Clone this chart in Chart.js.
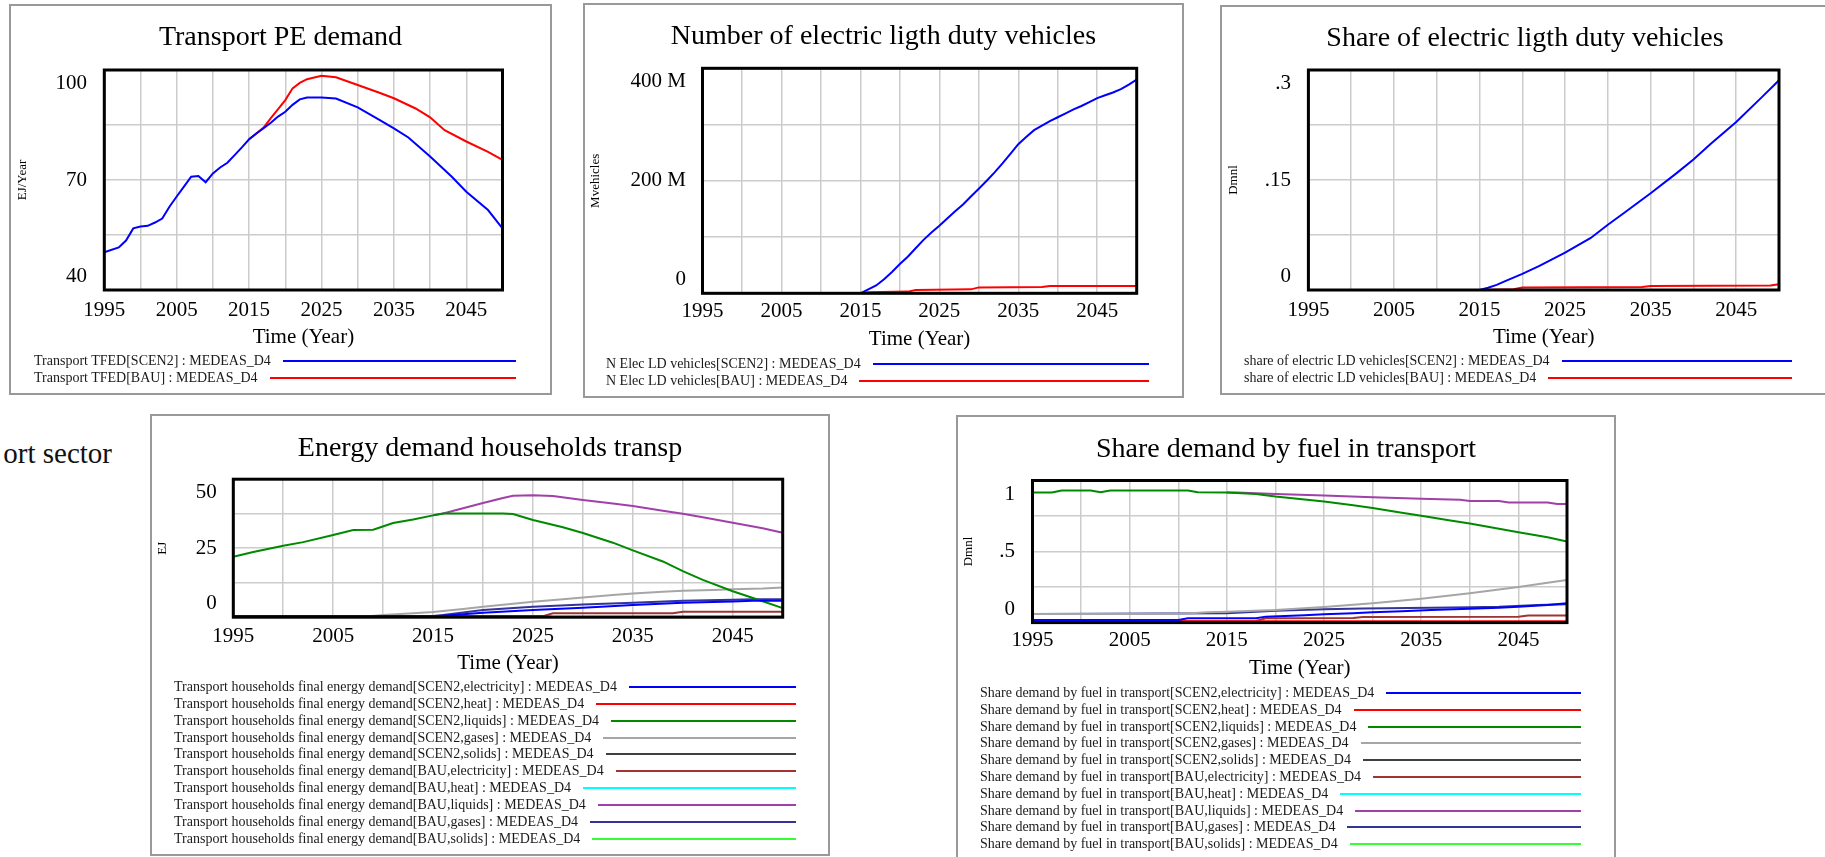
<!DOCTYPE html>
<html><head><meta charset="utf-8">
<script src="https://cdn.jsdelivr.net/npm/chart.js@4.4.0/dist/chart.umd.min.js"></script>
<style>
html,body{margin:0;padding:0;background:#fff;}
body{width:1825px;height:857px;position:relative;overflow:hidden;font-family:'Liberation Serif','Times New Roman',serif;}
.box{position:absolute;border:2px solid #999;box-sizing:border-box;}
canvas{position:absolute;}
.leg{position:absolute;display:flex;align-items:center;height:18px;font-size:14px;color:#1a1a1a;white-space:nowrap;}
.leg .ln{flex:1;height:2px;margin-left:12px;}
.side{position:absolute;font-size:29px;line-height:32px;color:#111;white-space:nowrap;}
</style></head><body>
<div class="side" style="right:1713px;top:437px;">ort sector</div>
<script>
// ---------------- DATA ----------------
const xTickLabels = ['1995','2005','2015','2025','2035','2045'];
const xTitle = 'Time (Year)';

// Transport PE demand (EJ/Year)
const peYearsScen2 = [1995,1997,1998,1999,2000,2001,2002,2003,2004,2005,2006,2007,2008,2009,2010,2011,2012,2013,2014,2015,2016,2017,2018,2019,2020,2021,2022,2023,2025,2027,2030,2033,2035,2037,2040,2043,2045,2048,2050];
const peScen2 = [50.3,51.6,53.5,56.8,57.3,57.5,58.4,59.5,62.7,65.5,68.2,70.9,71.1,69.4,71.8,73.4,74.7,76.8,78.9,81.1,82.7,84.1,85.6,87.3,88.6,90.5,92.0,92.5,92.5,92.2,89.8,86.4,84.1,81.6,76.4,70.9,66.8,61.8,56.8];
const peYearsBau = [2015,2016,2017,2018,2019,2020,2021,2022,2023,2025,2027,2030,2033,2035,2038,2040,2042,2045,2048,2050];
const peBau = [81.1,82.7,84.3,86.9,89.3,91.8,95.0,96.5,97.5,98.4,98.0,95.9,93.8,92.3,89.5,87.1,83.6,80.5,77.7,75.5];
const peTickLabels = ['40','70','100'];

// Number of electric light duty vehicles (millions)
const evYearsScen2 = [1995,2015,2016,2017,2018,2019,2020,2021,2022,2023,2024,2025,2026,2027,2028,2029,2030,2031,2032,2033,2034,2035,2036,2037,2038,2039,2040,2041,2042,2043,2044,2045,2046,2047,2048,2049,2050];
const evScen2 = [0,0,7,14,25,38,52,65,80,95,108,120,133,146,158,172,186,200,215,231,248,265,278,290,298,306,313,320,327,333,340,347,352,357,363,371,380];
const evYearsBau = [1995,2015,2016,2021,2022,2029,2030,2038,2039,2050];
const evBau = [0,0,2,3,6,7,10.5,11,13,13];
const evTickLabels = ['0','200 M','400 M'];

// Share of electric light duty vehicles (Dmnl)
const shYearsScen2 = [1995,2015,2016,2017,2018,2020,2022,2025,2028,2030,2032,2035,2038,2040,2042,2045,2048,2050];
const shScen2 = [0,0,0.003,0.007,0.012,0.022,0.033,0.051,0.071,0.089,0.106,0.132,0.159,0.178,0.199,0.229,0.263,0.286];
const shYearsBau = [1995,2015,2019,2020,2034,2035,2049,2050];
const shBau = [0,0,0.001,0.0035,0.004,0.0055,0.006,0.008];
const shTickLabels = ['0','.15','.3'];

// Energy demand households transport (EJ)
const hhYearsElecS = [1995,2015,2016,2020,2025,2030,2035,2040,2045,2047,2050];
const hhElecS = [0.4,0.4,0.5,1.6,2.6,3.4,4.4,5.2,5.7,6.0,6.0];
const hhYearsHeatS = [1995,2050];
const hhHeatS = [0.1,0.1];
const hhYearsLiqS = [1995,1997,2000,2002,2005,2007,2009,2011,2013,2015,2016,2022,2023,2025,2028,2030,2033,2035,2038,2040,2042,2045,2048,2050];
const hhLiqS = [21.9,23.6,25.9,27.2,29.8,31.6,31.7,34.1,35.4,36.9,37.6,37.6,37.4,35.2,32.6,30.5,27.0,24.2,20.2,16.7,13.5,9.4,5.8,3.3];
const hhYearsGasS = [1995,2008,2010,2013,2015,2018,2020,2023,2025,2028,2030,2033,2035,2038,2040,2043,2045,2048,2050];
const hhGasS = [0.1,0.2,0.8,1.4,1.9,3.0,3.8,4.9,5.6,6.5,7.1,8.0,8.6,9.2,9.6,9.9,10.1,10.4,10.8];
const hhYearsSolS = [1995,2015,2016,2026,2027,2050];
const hhSolS = [0.1,0.1,0.4,0.4,0.2,0.2];
const hhYearsElecB = [1995,2015,2016,2026,2027,2039,2040,2050];
const hhElecB = [0,0.1,0.4,0.4,1.4,1.4,2.0,2.0];
const hhYearsHeatB = [1995,2050];
const hhHeatB = [0,0];
const hhYearsLiqB = [2015,2016,2018,2020,2022,2023,2025,2027,2030,2033,2035,2038,2040,2042,2045,2048,2050];
const hhLiqB = [36.9,37.6,39.5,41.4,43.2,44.0,44.2,43.9,42.5,41.2,40.3,38.6,37.5,36.2,34.2,32.2,30.6];
const hhYearsGasB = [1995,2015,2016,2020,2025,2030,2035,2040,2045,2047,2050];
const hhGasB = [0.1,0.4,0.8,2.6,3.8,4.6,5.2,6.0,6.3,6.5,6.5];
const hhYearsSolB = [1995,2050];
const hhSolB = [0,0];
const hhTickLabels = ['0','25','50'];

// Share demand by fuel in transport (Dmnl)
const sfYearsElecS = [1995,2010,2011,2018,2019,2023,2025,2028,2030,2033,2036,2040,2043,2045,2048,2050];
const sfElecS = [0.018,0.018,0.03,0.03,0.042,0.052,0.058,0.066,0.072,0.08,0.089,0.098,0.105,0.112,0.124,0.136];
const sfYearsHeatS = [1995,2050];
const sfHeatS = [0.01,0.01];
const sfYearsLiqS = [1995,1997,1998,2001,2002,2003,2011,2012,2015,2018,2020,2023,2025,2028,2030,2033,2035,2038,2040,2043,2045,2048,2050];
const sfLiqS = [0.915,0.915,0.93,0.93,0.918,0.93,0.93,0.918,0.915,0.905,0.887,0.866,0.852,0.826,0.807,0.773,0.752,0.718,0.697,0.66,0.636,0.6,0.57];
const sfYearsGasS = [1995,2010,2013,2015,2020,2025,2030,2035,2040,2045,2048,2050];
const sfGasS = [0.06,0.06,0.072,0.076,0.089,0.11,0.136,0.168,0.206,0.25,0.28,0.30];
const sfYearsSolS = [1995,2050];
const sfSolS = [0.003,0.003];
const sfYearsElecB = [1995,2018,2019,2028,2029,2045,2046,2050];
const sfElecB = [0.01,0.012,0.03,0.032,0.04,0.042,0.05,0.05];
const sfYearsHeatB = [1995,2050];
const sfHeatB = [0,0];
const sfYearsLiqB = [2015,2016,2020,2025,2030,2035,2039,2040,2043,2044,2048,2049,2050];
const sfLiqB = [0.915,0.915,0.905,0.895,0.883,0.872,0.865,0.855,0.855,0.845,0.845,0.834,0.834];
const sfYearsGasB = [1995,2015,2017,2020,2025,2029,2036,2040,2043,2047,2050];
const sfGasB = [0.06,0.066,0.072,0.084,0.094,0.1,0.105,0.108,0.112,0.124,0.13];
const sfYearsSolB = [1995,2050];
const sfSolB = [0,0];
const sfTickLabels = ['0','.5','1'];

// ---------------- STYLE / LAYOUT ----------------
const SERIF = "'Liberation Serif','Times New Roman',serif";
const C = {blue:'#0000ff', red:'#ff0000', green:'#008a00', gray:'#a6a6a6', dark:'#404040',
  brown:'#a03434', cyan:'#00ffff', purple:'#a040a8', navy:'#333399', lime:'#33ff33'};
const GRID = '#cccccc';
const LABEL_INSET = 13.5;

function pts(xs, ys){ return xs.map((x,i)=>({x:x, y:ys[i]})); }

const framePlugin = {id:'frame', afterDatasetsDraw(chart){
  const {ctx, chartArea:a} = chart;
  ctx.save(); ctx.strokeStyle='#000'; ctx.lineWidth=3;
  ctx.strokeRect(a.left, a.top, a.right-a.left, a.bottom-a.top);
  ctx.restore();
}};

function makePanel(cfg){
  const box = cfg.box, plot = cfg.plot;
  const W = box.r - box.l, H = box.b - box.t;
  const d = document.createElement('div');
  d.className='box';
  Object.assign(d.style,{left:box.l+'px',top:box.t+'px',width:W+'px',height:H+'px'});
  document.body.appendChild(d);
  const cv = document.createElement('canvas');
  cv.width=W; cv.height=H;
  Object.assign(cv.style,{left:box.l+'px',top:box.t+'px',width:W+'px',height:H+'px'});
  document.body.appendChild(cv);

  const pl = plot.l-box.l, pt = plot.t-box.t, pr = plot.r-box.l, pb = plot.b-box.t;
  const tSize=28, tLH=tSize*1.2;
  const tY = cfg.titleY-box.t;
  const tickSize=21, tickLH=tickSize*1.2;
  const xtSize=21, xtLH=xtSize*1.2;
  const xAxisH = (cfg.xTitleY-box.t) - pb + xtLH/2;
  const ytSize=13, ytLH=ytSize*1.2;
  const min=cfg.min, max=cfg.max;
  const ph = pb-pt;

  const datasets = cfg.series.map(s=>({
    label:s.label, data:pts(s.xs, s.ys), borderColor:s.color, backgroundColor:s.color,
    borderWidth:2, pointRadius:0, tension:0, fill:false
  }));

  new Chart(cv, {
    type:'line',
    data:{datasets:datasets},
    options:{
      responsive:false, animation:false, events:[],
      layout:{padding:{left:0,right:0,top:0,bottom:H-pb-xAxisH}},
      plugins:{
        legend:{display:false}, tooltip:{enabled:false},
        title:{display:true, text:cfg.title, color:'#000',
          font:{family:SERIF,size:tSize,weight:'normal',lineHeight:1.2},
          padding:{top:tY-tLH/2, bottom:pt-tY-tLH/2}}
      },
      scales:{
        x:{type:'linear', position:'bottom', min:1995, max:2050,
          grid:{color:GRID, lineWidth:1.5, drawTicks:false}, border:{display:false},
          ticks:{stepSize:5, autoSkip:false, maxRotation:0, color:'#000',
            font:{family:SERIF,size:tickSize,lineHeight:1.2},
            padding:(cfg.xLabelY-box.t)-pb-tickLH/2,
            callback:(v)=> xTickLabels.includes(String(v)) ? String(v) : ''},
          title:{display:true, text:xTitle, color:'#000',
            font:{family:SERIF,size:xtSize,lineHeight:1.2}, padding:{top:0,bottom:0}},
          afterFit:(s)=>{ s.height = xAxisH; }
        },
        y:{type:'linear', position:'left', min:min, max:max,
          grid:{color:GRID, lineWidth:1.5, drawTicks:false}, border:{display:false},
          ticks:{display:false},
          afterBuildTicks:(s)=>{ s.ticks=[0,1,2,3,4].map(k=>({value:min+k*(max-min)/4})); },
          afterFit:(s)=>{ s.width = 0; }
        },
        yl:{type:'linear', position:'left', min:min, max:max,
          grid:{display:false, drawTicks:false}, border:{display:false},
          ticks:{autoSkip:false, color:'#000', font:{family:SERIF,size:tickSize,lineHeight:1.2},
            padding: pl-(cfg.yLabelRight-box.l),
            callback:(v,i)=> cfg.yLabels[i]},
          afterBuildTicks:(s)=>{ const off=(max-min)*LABEL_INSET/ph;
            s.ticks=[{value:min+off},{value:(min+max)/2},{value:max-off}]; },
          title:{display:true, text:cfg.yTitle, color:'#000',
            font:{family:SERIF,size:ytSize,lineHeight:1.2},
            padding:{top:(cfg.yTitleX-box.l)-ytLH/2, bottom:0}},
          afterFit:(s)=>{ s.width = pl; }
        },
        rgt:{type:'linear', position:'right', display:true,
          grid:{display:false, drawTicks:false}, border:{display:false}, ticks:{display:false},
          afterFit:(s)=>{ s.width = W-pr; }
        }
      }
    },
    plugins:[framePlugin]
  });

  // legend (Vensim style: text then a line)
  cfg.series.forEach((s,i)=>{
    const row = document.createElement('div');
    row.className='leg';
    Object.assign(row.style,{left:cfg.leg.l+'px', top:(cfg.leg.rows[i]-9)+'px', width:(cfg.leg.r-cfg.leg.l)+'px'});
    const sp = document.createElement('span'); sp.textContent = s.label;
    const ln = document.createElement('div'); ln.className='ln'; ln.style.background = s.color;
    row.appendChild(sp); row.appendChild(ln);
    document.body.appendChild(row);
  });
}

Chart.defaults.font.family = SERIF;

// Panel 1
makePanel({
  title:'Transport PE demand', yTitle:'EJ/Year', yLabels:peTickLabels, min:40, max:100,
  box:{l:9,t:4,r:552,b:395}, plot:{l:104.3,t:70,r:502.5,b:290},
  titleY:38, xLabelY:310, xTitleY:337, yLabelRight:87, yTitleX:23,
  leg:{l:34, r:516, rows:[361,378]},
  series:[
    {label:'Transport TFED[SCEN2] : MEDEAS_D4', xs:peYearsScen2, ys:peScen2, color:C.blue},
    {label:'Transport TFED[BAU] : MEDEAS_D4', xs:peYearsBau, ys:peBau, color:C.red}
  ]
});

// Panel 2
makePanel({
  title:'Number of electric ligth duty vehicles', yTitle:'Mvehicles', yLabels:evTickLabels, min:0, max:400,
  box:{l:583,t:3,r:1184,b:398}, plot:{l:702.5,t:68.3,r:1136.7,b:293.3},
  titleY:37, xLabelY:311.7, xTitleY:339, yLabelRight:686, yTitleX:596,
  leg:{l:606, r:1149, rows:[364,380.7]},
  series:[
    {label:'N Elec LD vehicles[SCEN2] : MEDEAS_D4', xs:evYearsScen2, ys:evScen2, color:C.blue},
    {label:'N Elec LD vehicles[BAU] : MEDEAS_D4', xs:evYearsBau, ys:evBau, color:C.red}
  ]
});

// Panel 3
makePanel({
  title:'Share of electric ligth duty vehicles', yTitle:'Dmnl', yLabels:shTickLabels, min:0, max:0.3,
  box:{l:1220,t:5,r:1830,b:395}, plot:{l:1308.4,t:70,r:1779,b:290},
  titleY:38.3, xLabelY:310, xTitleY:337.3, yLabelRight:1291, yTitleX:1234,
  leg:{l:1244, r:1792, rows:[360.7,377.7]},
  series:[
    {label:'share of electric LD vehicles[SCEN2] : MEDEAS_D4', xs:shYearsScen2, ys:shScen2, color:C.blue},
    {label:'share of electric LD vehicles[BAU] : MEDEAS_D4', xs:shYearsBau, ys:shBau, color:C.red}
  ]
});

// Panel 4
const hhName = 'Transport households final energy demand';
makePanel({
  title:'Energy demand households transp', yTitle:'EJ', yLabels:hhTickLabels, min:0, max:50,
  box:{l:150,t:414,r:830,b:856}, plot:{l:233.3,t:479.2,r:782.7,b:617.2},
  titleY:448.3, xLabelY:636.7, xTitleY:663.3, yLabelRight:216.7, yTitleX:162.7,
  leg:{l:174, r:796, rows:[687.3,704,721,737.7,754.3,771,788.3,805,821.7,838.7]},
  series:[
    {label:hhName+'[SCEN2,electricity] : MEDEAS_D4', xs:hhYearsElecS, ys:hhElecS, color:C.blue},
    {label:hhName+'[SCEN2,heat] : MEDEAS_D4', xs:hhYearsHeatS, ys:hhHeatS, color:C.red},
    {label:hhName+'[SCEN2,liquids] : MEDEAS_D4', xs:hhYearsLiqS, ys:hhLiqS, color:C.green},
    {label:hhName+'[SCEN2,gases] : MEDEAS_D4', xs:hhYearsGasS, ys:hhGasS, color:C.gray},
    {label:hhName+'[SCEN2,solids] : MEDEAS_D4', xs:hhYearsSolS, ys:hhSolS, color:C.dark},
    {label:hhName+'[BAU,electricity] : MEDEAS_D4', xs:hhYearsElecB, ys:hhElecB, color:C.brown},
    {label:hhName+'[BAU,heat] : MEDEAS_D4', xs:hhYearsHeatB, ys:hhHeatB, color:C.cyan},
    {label:hhName+'[BAU,liquids] : MEDEAS_D4', xs:hhYearsLiqB, ys:hhLiqB, color:C.purple},
    {label:hhName+'[BAU,gases] : MEDEAS_D4', xs:hhYearsGasB, ys:hhGasB, color:C.navy},
    {label:hhName+'[BAU,solids] : MEDEAS_D4', xs:hhYearsSolB, ys:hhSolB, color:C.lime}
  ]
});

// Panel 5
const sfName = 'Share demand by fuel in transport';
makePanel({
  title:'Share demand by fuel in transport', yTitle:'Dmnl', yLabels:sfTickLabels, min:0, max:1,
  box:{l:956,t:415,r:1616,b:870}, plot:{l:1032.5,t:480.5,r:1567,b:622.6},
  titleY:449.3, xLabelY:640.5, xTitleY:668.3, yLabelRight:1015, yTitleX:968.3,
  leg:{l:980, r:1581, rows:[693.3,710,726.7,743.3,760,777,794,810.7,827.3,844.3]},
  series:[
    {label:sfName+'[SCEN2,electricity] : MEDEAS_D4', xs:sfYearsElecS, ys:sfElecS, color:C.blue},
    {label:sfName+'[SCEN2,heat] : MEDEAS_D4', xs:sfYearsHeatS, ys:sfHeatS, color:C.red},
    {label:sfName+'[SCEN2,liquids] : MEDEAS_D4', xs:sfYearsLiqS, ys:sfLiqS, color:C.green},
    {label:sfName+'[SCEN2,gases] : MEDEAS_D4', xs:sfYearsGasS, ys:sfGasS, color:C.gray},
    {label:sfName+'[SCEN2,solids] : MEDEAS_D4', xs:sfYearsSolS, ys:sfSolS, color:C.dark},
    {label:sfName+'[BAU,electricity] : MEDEAS_D4', xs:sfYearsElecB, ys:sfElecB, color:C.brown},
    {label:sfName+'[BAU,heat] : MEDEAS_D4', xs:sfYearsHeatB, ys:sfHeatB, color:C.cyan},
    {label:sfName+'[BAU,liquids] : MEDEAS_D4', xs:sfYearsLiqB, ys:sfLiqB, color:C.purple},
    {label:sfName+'[BAU,gases] : MEDEAS_D4', xs:sfYearsGasB, ys:sfGasB, color:C.navy},
    {label:sfName+'[BAU,solids] : MEDEAS_D4', xs:sfYearsSolB, ys:sfSolB, color:C.lime}
  ]
});
</script>
</body></html>
